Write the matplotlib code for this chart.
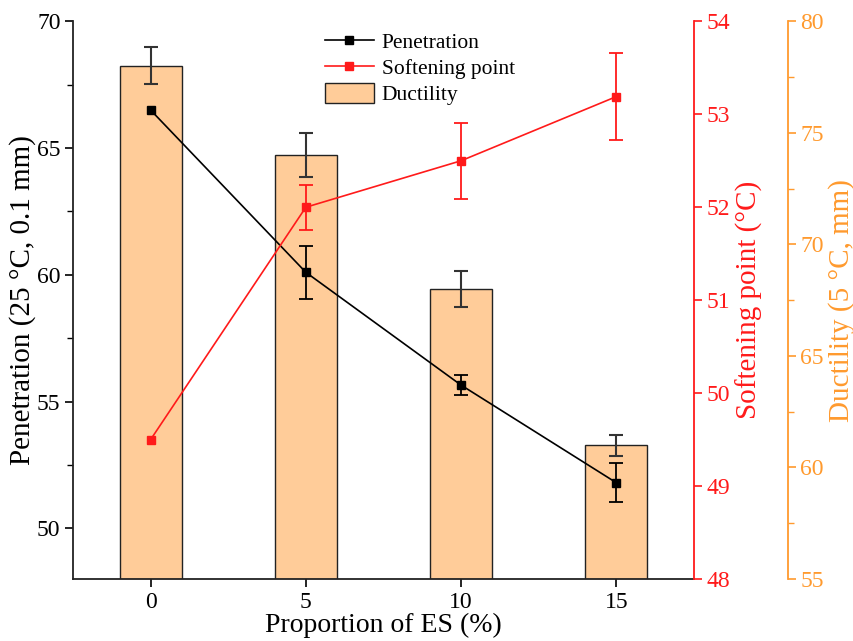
import matplotlib
matplotlib.use("Agg")
import matplotlib.pyplot as plt
from matplotlib.ticker import MultipleLocator
from matplotlib.lines import Line2D
from matplotlib.patches import Patch

plt.rcParams['font.family'] = ['Liberation Serif', 'DejaVu Serif']

es = [0, 5, 10, 15]
penetration = [66.5, 60.1, 55.65, 51.8]
penetration_err = [0.0, 1.05, 0.4, 0.77]
softening = [49.5, 52.0, 52.5, 53.19]
softening_err = [0.0, 0.24, 0.41, 0.47]
ductility = [78.0, 74.0, 68.0, 61.0]
ductility_err = [0.83, 1.0, 0.8, 0.47]

RED = '#FF1A1A'
ORANGE = '#FF9A2E'
BAR = '#FFCC99'
FS = 17
LFS = 21

fig = plt.figure(figsize=(8.54, 6.41), dpi=100)
ax1 = fig.add_axes([0.0855, 0.0967, 0.727, 0.870])
ax2 = ax1.twinx()
ax3 = ax1.twinx()

# bars (ductility) at the back
ax3.bar(es, ductility, width=2, color=BAR, edgecolor='#222222', linewidth=1.0,
        yerr=ductility_err, capsize=5, error_kw=dict(ecolor='#333333', elinewidth=1.5, capthick=1.5))
ax3.set_ylim(55, 80)
ax3.spines['right'].set_position(('axes', 1.1514))
ax3.spines['right'].set_color(ORANGE)
ax3.spines['right'].set_linewidth(1.3)
for s in ['top', 'left', 'bottom']:
    ax3.spines[s].set_visible(False)
ax3.yaxis.set_major_locator(MultipleLocator(5))
ax3.yaxis.set_minor_locator(MultipleLocator(2.5))
ax3.tick_params(axis='y', colors=ORANGE, labelsize=FS, length=6, width=1.2, direction='out', pad=3)
ax3.tick_params(axis='y', which='minor', colors=ORANGE, length=4, width=1.0)
ax3.set_ylabel('Ductility (5 °C, mm)', color=ORANGE, fontsize=LFS, labelpad=3)

# penetration
ax1.errorbar(es, penetration, yerr=penetration_err, errorevery=(1, 1), color='black', marker='s',
             markersize=6, linewidth=1.2, capsize=5, elinewidth=1.3, capthick=1.3)
ax1.set_ylim(48, 70)
ax1.set_xlim(-2.5, 17.5)
ax1.set_xticks(es)
ax1.yaxis.set_major_locator(MultipleLocator(5))
ax1.yaxis.set_minor_locator(MultipleLocator(2.5))
ax1.tick_params(axis='both', labelsize=FS, length=6, width=1.2, direction='out', pad=3)
ax1.tick_params(axis='y', which='minor', length=4, width=1.0)
ax1.set_ylabel('Penetration (25 °C, 0.1 mm)', fontsize=LFS, labelpad=1)
ax1.set_xlabel('Proportion of ES (%)', fontsize=20, labelpad=0)
ax1.spines['top'].set_visible(False)
ax1.spines['right'].set_visible(False)
for s in ['left', 'bottom']:
    ax1.spines[s].set_linewidth(1.3)
    ax1.spines[s].set_color('#222222')

# softening point
ax2.errorbar(es, softening, yerr=softening_err, errorevery=(1, 1), color=RED, marker='s',
             markersize=6, linewidth=1.2, capsize=5, elinewidth=1.3, capthick=1.3)
ax2.set_ylim(48, 54)
ax2.yaxis.set_major_locator(MultipleLocator(1))
ax2.tick_params(axis='y', colors=RED, labelsize=FS, length=6, width=1.2, direction='out', pad=3)
ax2.spines['right'].set_color(RED)
ax2.spines['right'].set_linewidth(1.3)
for s in ['top', 'left', 'bottom']:
    ax2.spines[s].set_visible(False)
ax2.set_ylabel('Softening point (°C)', color=RED, fontsize=LFS, labelpad=4)

ax3.set_zorder(0)
ax1.set_zorder(1)
ax2.set_zorder(2)
ax1.patch.set_visible(False)
ax2.patch.set_visible(False)

handles = [
    Line2D([], [], color='black', marker='s', markersize=6, linewidth=1.2),
    Line2D([], [], color=RED, marker='s', markersize=6, linewidth=1.2),
    Patch(facecolor=BAR, edgecolor='#222222', linewidth=1.0),
]
ax2.legend(handles, ['Penetration', 'Softening point', 'Ductility'], loc='upper left',
           bbox_to_anchor=(0.381, 1.01), frameon=False, fontsize=15.5,
           handlelength=2.3, handleheight=1.1, handletextpad=0.35, labelspacing=0.15, borderpad=0.2)

fig.savefig('out.png', dpi=100, facecolor='white')
